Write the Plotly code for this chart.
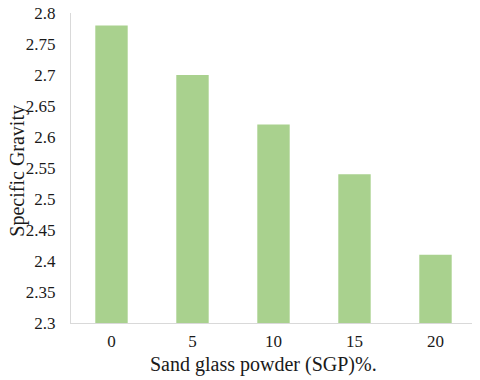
import plotly.graph_objects as go

sgp_percent = ["0", "5", "10", "15", "20"]
specific_gravity = [2.78, 2.70, 2.62, 2.54, 2.41]
y_ticks = [2.3, 2.35, 2.4, 2.45, 2.5, 2.55, 2.6, 2.65, 2.7, 2.75, 2.8]
y_tick_labels = ["2.3", "2.35", "2.4", "2.45", "2.5", "2.55", "2.6", "2.65", "2.7", "2.75", "2.8"]

serif = "Liberation Serif"
text_color = "#1a1a1a"

fig = go.Figure(
    go.Bar(
        x=sgp_percent,
        y=specific_gravity,
        marker=dict(color="#a9d18e", line=dict(width=0)),
    )
)

# page body adds an 8px offset, so margins are shifted up/left by 8
fig.update_layout(
    width=480,
    height=380,
    paper_bgcolor="white",
    plot_bgcolor="white",
    margin=dict(l=63, r=12, t=5, b=65),
    bargap=0.6,
    showlegend=False,
    font=dict(family=serif, size=17, color=text_color),
    xaxis=dict(
        type="category",
        showline=True,
        linecolor="#d9d9d9",
        linewidth=1,
        showgrid=False,
        ticks="",
        ticklabelstandoff=3,
        tickfont=dict(family=serif, size=17),
        automargin=False,
    ),
    yaxis=dict(
        range=[2.3, 2.8],
        tickvals=y_ticks,
        ticktext=y_tick_labels,
        showline=True,
        linecolor="#d9d9d9",
        linewidth=1,
        showgrid=False,
        zeroline=False,
        ticks="",
        ticklabelstandoff=11,
        ticklabeloverflow="allow",
        tickfont=dict(family=serif, size=17),
        automargin=False,
    ),
    annotations=[
        dict(
            text="Specific Gravity",
            xref="paper",
            yref="paper",
            x=-0.132,
            y=0.49,
            xanchor="center",
            yanchor="middle",
            textangle=-90,
            showarrow=False,
            font=dict(size=20, family=serif, color=text_color),
        ),
        dict(
            text="Sand glass powder (SGP)%.",
            xref="paper",
            yref="paper",
            x=0.475,
            y=-0.135,
            xanchor="center",
            yanchor="middle",
            showarrow=False,
            font=dict(size=20, family=serif, color=text_color),
        ),
    ],
)

fig.write_html("out.html")
